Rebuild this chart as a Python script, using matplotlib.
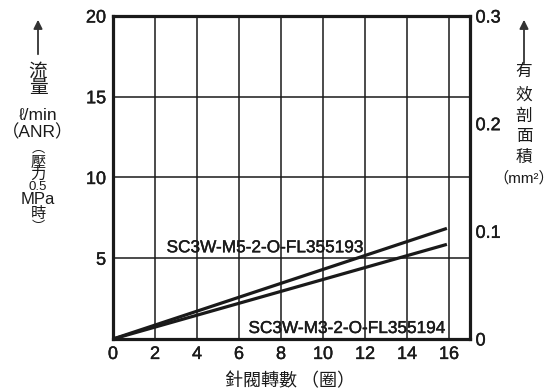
import matplotlib.pyplot as plt
import matplotlib.patheffects as pe

plt.rcParams['font.family'] = ['Liberation Sans', 'Noto Sans CJK TC', 'DejaVu Sans']

# data
turns = [0, 15.9]
flow_m5 = [0, 6.85]
flow_m3 = [0, 5.86]
x_ticks = [0, 2, 4, 6, 8, 10, 12, 14, 16]
y_ticks = [5, 10, 15, 20]
area_ticks = [0, 0.1, 0.2, 0.3]

ink = '#1a1a1a'
heavy = [pe.withStroke(linewidth=0.3, foreground=ink)]

fig = plt.figure(figsize=(5.58, 3.92), dpi=100)
ax = fig.add_axes([113 / 558, 1 - 339 / 392, 357 / 558, 323 / 392])

ax.plot(turns, flow_m5, color=ink, lw=2.3, solid_capstyle='butt')
ax.plot(turns, flow_m3, color=ink, lw=2.3, solid_capstyle='butt')

ax.set_xlim(0, 17)
ax.set_ylim(0, 20)
ax.set_xticks(x_ticks)
ax.set_yticks(y_ticks)
ax.tick_params(length=0, labelsize=13, pad=5, colors=ink)
ax.grid(True, color=ink, lw=1.1)
for s in ax.spines.values():
    s.set_linewidth(2.3)
    s.set_color(ink)

ax2 = ax.twinx()
ax2.set_ylim(0, 0.3)
ax2.set_yticks(area_ticks)
ax2.set_yticklabels(['0', '0.1', '0.2', '0.3'])
ax2.tick_params(length=0, labelsize=13, pad=4, colors=ink)
for s in ax2.spines.values():
    s.set_visible(False)

for lbl in ax.get_xticklabels() + ax.get_yticklabels() + ax2.get_yticklabels():
    lbl.set_path_effects(heavy)

ax.text(7.25, 5.65, 'SC3W-M5-2-O-FL355193', fontsize=12.4, ha='center', va='center',
        color=ink, path_effects=heavy)
ax.text(11.15, 0.65, 'SC3W-M3-2-O-FL355194', fontsize=12.4, ha='center', va='center',
        color=ink, path_effects=heavy)

fig.text(290 / 558, 1 - 381 / 392, '針閥轉數 （圈）', fontsize=13, ha='center', va='center',
         family=['Noto Sans CJK TC'], color=ink)

# arrows
ax.annotate('', xy=(38 / 558, 1 - 17 / 392), xytext=(38 / 558, 1 - 57 / 392),
            xycoords='figure fraction',
            arrowprops=dict(arrowstyle='-|>', color='#333333', lw=1.3, mutation_scale=13))
ax.annotate('', xy=(524 / 558, 1 - 17 / 392), xytext=(524 / 558, 1 - 66 / 392),
            xycoords='figure fraction',
            arrowprops=dict(arrowstyle='-|>', color='#333333', lw=1.3, mutation_scale=13))

left = [('流', 72, 13.5), ('量', 89, 13.5), ('ℓ/min', 116, 12.5), ('（ANR）', 132, 12.5),
        ('︵', 149, 9.5), ('壓', 162, 11), ('力', 175, 11), ('0.5', 187, 9.5),
        ('MPa', 199, 12), ('時', 214, 11), ('︶', 228, 9.5)]
for t, y, fs in left:
    fig.text(38 / 558, 1 - y / 392, t, fontsize=fs, ha='center', va='center', color=ink,
             family=['Liberation Sans', 'Noto Sans CJK TC'])

right = [('有', 71, 12), ('效', 95, 12), ('剖', 116, 12), ('面', 137, 12),
         ('積', 157, 12), ('（mm²）', 178, 11)]
for t, y, fs in right:
    fig.text(524 / 558, 1 - y / 392, t, fontsize=fs, ha='center', va='center', color=ink,
             family=['Liberation Sans', 'Noto Sans CJK TC'])

fig.savefig('out.png', dpi=100)
